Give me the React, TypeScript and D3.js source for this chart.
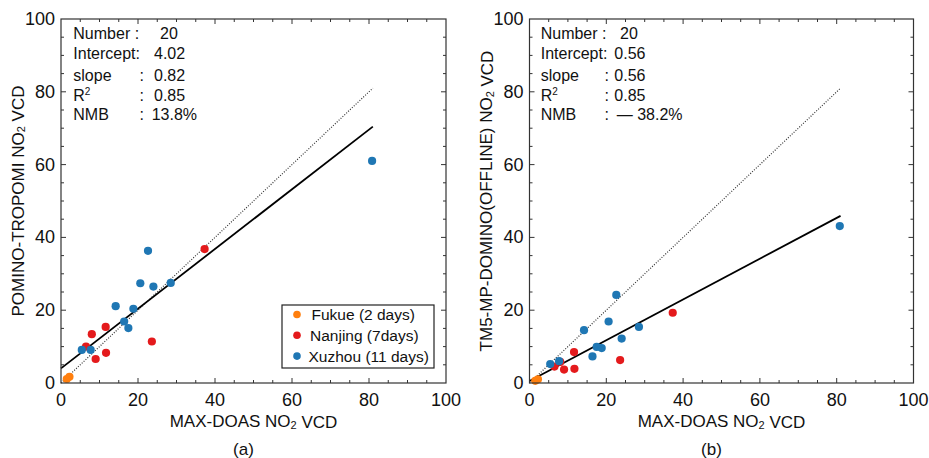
import React from "react";
import * as d3 from "d3";

// ---- data ----
const fukueMaxdoas = [1.5, 2.2];
const fukuePomino = [1.1, 1.7];
const fukueTm5 = [0.6, 1.0];

const nanjingMaxdoas = [6.5, 8.0, 9.0, 11.6, 11.7, 23.6, 37.3];
const nanjingPomino = [10.0, 13.4, 6.6, 15.4, 8.3, 11.4, 36.8];
const nanjingTm5 = [4.5, 5.8, 3.7, 8.5, 3.9, 6.3, 19.3];

const xuzhouMaxdoas = [5.4, 7.7, 14.2, 16.4, 17.5, 18.8, 20.6, 22.6, 24.0, 28.5, 80.8];
const xuzhouPomino = [9.1, 9.1, 21.1, 16.9, 15.1, 20.4, 27.4, 36.3, 26.5, 27.5, 61.0];
const xuzhouTm5 = [5.2, 6.0, 14.5, 7.3, 9.9, 9.6, 16.9, 24.2, 12.2, 15.4, 43.1];

const tickValues = [0, 20, 40, 60, 80, 100];
const minorTickValues = d3.range(0, 101, 5);

const legendLabels = ["Fukue (2 days)", "Nanjing (7days)", "Xuzhou (11 days)"];

const statsA = { number: "20", intercept: 4.02, slope: 0.82, r2: "0.85", nmb: "13.8%" };
const statsB = { number: "20", intercept: 0.56, slope: 0.56, r2: "0.85", nmb: "— 38.2%" };

const fitRange = [0, 81];

const COLORS = { fukue: "#ff7f0e", nanjing: "#e41a1c", xuzhou: "#1f77b4" };
const FONT = "'Liberation Sans', Arial, Helvetica, sans-serif";

type PanelProps = {
  x0: number;
  x1: number;
  yTitle: string;
  tag: string;
  fY: number[];
  nY: number[];
  xY: number[];
  stats: typeof statsA;
  legend: boolean;
  off: { label: number; colon: number; value: number; num: number; nmb: number };
};

function Panel({ x0, x1, yTitle, tag, fY, nY, xY, stats, legend, off }: PanelProps) {
  const top = 19;
  const bottom = 383;
  const x = d3.scaleLinear().domain([0, 100]).range([x0, x1]);
  const y = d3.scaleLinear().domain([0, 100]).range([bottom, top]);
  const axisColor = "#333";

  const ticks: JSX.Element[] = [];
  minorTickValues.forEach((v) => {
    const major = v % 20 === 0;
    const len = major ? 5 : 3;
    const px = x(v);
    const py = y(v);
    if (v !== 0 && v !== 100) {
      ticks.push(<line key={"b" + v} x1={px} x2={px} y1={bottom} y2={bottom - len} stroke={axisColor} strokeWidth={1} />);
      ticks.push(<line key={"t" + v} x1={px} x2={px} y1={top} y2={top + len} stroke={axisColor} strokeWidth={1} />);
      ticks.push(<line key={"l" + v} x1={x0} x2={x0 + len} y1={py} y2={py} stroke={axisColor} strokeWidth={1} />);
      ticks.push(<line key={"r" + v} x1={x1} x2={x1 - len} y1={py} y2={py} stroke={axisColor} strokeWidth={1} />);
    }
  });

  const fitLine = d3
    .line<number>()
    .x((d) => x(d))
    .y((d) => y(stats.intercept + stats.slope * d));
  const oneLine = d3
    .line<number>()
    .x((d) => x(d))
    .y((d) => y(d));

  const r = 4.1;
  const rowY = [33.5, 53.5, 75, 95, 114.5];
  const fs = 16;

  return (
    <g fontFamily={FONT}>
      {/* 1:1 dotted line */}
      <path d={oneLine(fitRange) || ""} stroke="#333" strokeWidth={1.2} strokeDasharray="1,1.6" fill="none" />
      {/* regression line */}
      <path d={fitLine(fitRange) || ""} stroke="#000" strokeWidth={1.8} fill="none" />
      {/* points */}
      {nanjingMaxdoas.map((v, i) => (
        <circle key={"n" + i} cx={x(v)} cy={y(nY[i])} r={r} fill={COLORS.nanjing} />
      ))}
      {xuzhouMaxdoas.map((v, i) => (
        <circle key={"x" + i} cx={x(v)} cy={y(xY[i])} r={r} fill={COLORS.xuzhou} />
      ))}
      {fukueMaxdoas.map((v, i) => (
        <circle key={"f" + i} cx={x(v)} cy={y(fY[i])} r={r} fill={COLORS.fukue} />
      ))}
      {/* frame */}
      <rect x={x0} y={top} width={x1 - x0} height={bottom - top} fill="none" stroke={axisColor} strokeWidth={1.2} />
      {ticks}
      {/* tick labels */}
      {tickValues.map((v) => (
        <text key={"xl" + v} x={x(v)} y={399.5} fontSize={18} textAnchor="middle" dominantBaseline="central" fill="#111">
          {v}
        </text>
      ))}
      {tickValues.map((v) => (
        <text key={"yl" + v} x={x0 - 6} y={y(v)} fontSize={18} textAnchor="end" dominantBaseline="central" fill="#111">
          {v}
        </text>
      ))}
      {/* axis titles */}
      <text x={(x0 + x1) / 2} y={421.5} fontSize={17} textAnchor="middle" dominantBaseline="central" fill="#111">
        MAX-DOAS NO<tspan fontSize={11} dy={3}>2</tspan>
        <tspan dy={-3}> VCD</tspan>
      </text>
      <text
        transform={`translate(${x0 - 43},${(top + bottom) / 2}) rotate(-90)`}
        fontSize={17}
        textAnchor="middle"
        dominantBaseline="central"
        fill="#111"
      >
        {yTitle} NO<tspan fontSize={11} dy={3}>2</tspan>
        <tspan dy={-3}> VCD</tspan>
      </text>
      <text x={(x0 + x1) / 2 - 10} y={449} fontSize={17} textAnchor="middle" dominantBaseline="central" fill="#111">
        {tag}
      </text>
      {/* stats */}
      <g fontSize={fs} fill="#111">
        <text x={x0 + off.label} y={rowY[0]} dominantBaseline="central">Number :</text>
        <text x={x0 + off.num} y={rowY[0]} dominantBaseline="central">{stats.number}</text>
        <text x={x0 + off.label} y={rowY[1]} dominantBaseline="central">Intercept:</text>
        <text x={x0 + off.value} y={rowY[1]} dominantBaseline="central">{stats.intercept.toFixed(2)}</text>
        <text x={x0 + off.label} y={rowY[2]} dominantBaseline="central">slope</text>
        <text x={x0 + off.colon} y={rowY[2]} dominantBaseline="central">:</text>
        <text x={x0 + off.value} y={rowY[2]} dominantBaseline="central">{stats.slope.toFixed(2)}</text>
        <text x={x0 + off.label} y={rowY[3]} dominantBaseline="central">
          R<tspan fontSize={10} dy={-4}>2</tspan>
        </text>
        <text x={x0 + off.colon} y={rowY[3]} dominantBaseline="central">:</text>
        <text x={x0 + off.value} y={rowY[3]} dominantBaseline="central">{stats.r2}</text>
        <text x={x0 + off.label} y={rowY[4]} dominantBaseline="central">NMB</text>
        <text x={x0 + off.colon} y={rowY[4]} dominantBaseline="central">:</text>
        <text x={x0 + off.nmb} y={rowY[4]} dominantBaseline="central">{stats.nmb}</text>
      </g>
      {legend && (
        <g>
          <rect x={282} y={305} width={152} height={63} fill="#fff" stroke="#222" strokeWidth={1.2} />
          {legendLabels.map((lab, i) => {
            const ly = 314.5 + i * 20.8;
            const col = [COLORS.fukue, COLORS.nanjing, COLORS.xuzhou][i];
            return (
              <g key={lab}>
                <circle cx={297} cy={ly} r={3.8} fill={col} />
                <text x={[311.5, 310, 308.5][i]} y={ly} fontSize={15.5} dominantBaseline="central" fill="#111">
                  {lab}
                </text>
              </g>
            );
          })}
        </g>
      )}
    </g>
  );
}

export default function App() {
  return (
    <svg
      width={929}
      height={458}
      viewBox="0 0 929 458"
      style={{ position: "absolute", left: 0, top: 0, background: "#fff" }}
    >
      <rect width={929} height={458} fill="#fff" />
      <Panel
        x0={61}
        x1={446}
        yTitle="POMINO-TROPOMI"
        tag="(a)"
        fY={fukuePomino}
        nY={nanjingPomino}
        xY={xuzhouPomino}
        stats={statsA}
        legend={true}
        off={{ label: 12.3, colon: 78.5, value: 93, num: 99, nmb: 90.7 }}
      />
      <Panel
        x0={529.5}
        x1={913.5}
        yTitle="TM5-MP-DOMINO(OFFLINE)"
        tag="(b)"
        fY={fukueTm5}
        nY={nanjingTm5}
        xY={xuzhouTm5}
        stats={statsB}
        legend={false}
        off={{ label: 11.2, colon: 75, value: 84.8, num: 90.5, nmb: 87.2 }}
      />
    </svg>
  );
}
